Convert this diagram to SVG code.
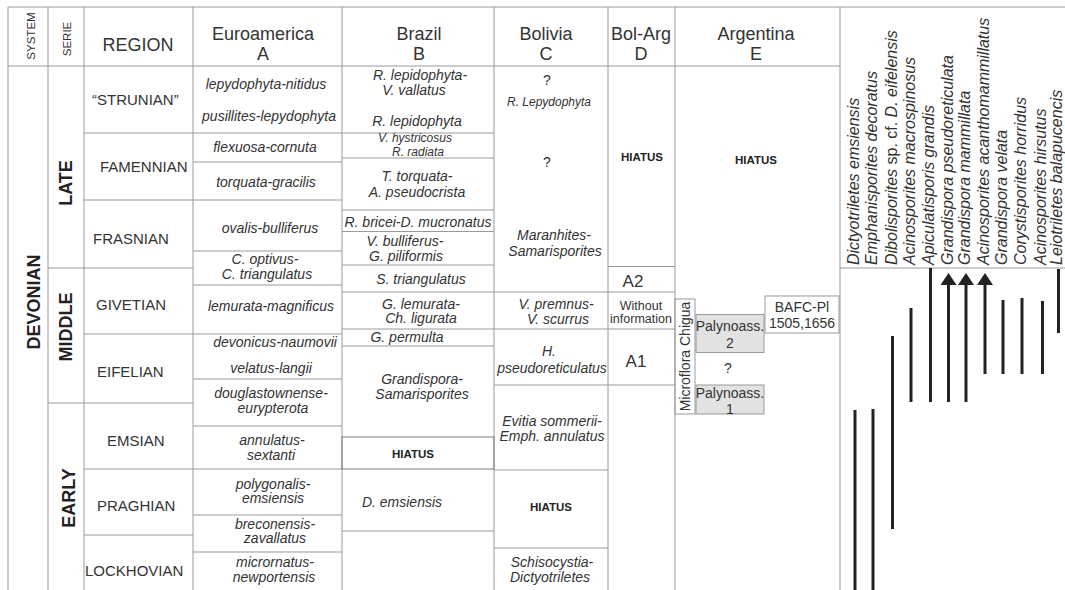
<svg xmlns="http://www.w3.org/2000/svg" width="1065" height="590" viewBox="0 0 1065 590">
<style>
text{font-family:"Liberation Sans",Arial,sans-serif;fill:#333}
.g{stroke:#9a9a9a;stroke-width:1;fill:none}
.h{font-size:18px;text-anchor:middle}
.hs{font-size:11.5px;text-anchor:middle}
.st{font-size:15px}
.it{font-size:14px;font-style:italic;text-anchor:middle}
.its{font-size:12px;font-style:italic;text-anchor:middle}
.hi{font-size:11.5px;font-weight:bold;text-anchor:middle;fill:#222}
.bd{font-size:18px;font-weight:bold;text-anchor:middle;fill:#222}
.up{font-size:14px;text-anchor:middle}
.sp{font-size:16px;font-style:italic;fill:#222}
.bar{stroke:#222;stroke-width:3}
.box{fill:#e2e2e2;stroke:#9a9a9a;stroke-width:1}
</style>
<defs>
<marker id="ah" viewBox="0 0 12 16" refX="0" refY="8" markerWidth="12" markerHeight="16" markerUnits="userSpaceOnUse" orient="auto"><path d="M0,0 L12,8 L0,16 z" fill="#222"/></marker>
<clipPath id="cp1"><rect x="696" y="385" width="68" height="29"/></clipPath>
</defs>
<rect width="1065" height="590" fill="#fff"/>

<g id="grid" class="g">
<path d="M8,7H1065 M8,66H840 M840,268H1065"/>
<path d="M8,7V590 M48,7V590 M84,7V590 M193,7V590 M342,7V590 M494,7V590 M608,7V590 M675,7V590 M840,7V590"/>
<path d="M48,268H193 M48,403H193 M84,133H494 M84,200H342 M84,334H342 M84,469H342 M84,535H193"/>
<path d="M193,162H342 M193,251H342 M193,285H342 M193,379H342 M193,426H342 M193,515H342 M193,552H342"/>
<path d="M342,158H494 M342,210H494 M342,231.5H494 M342,265H494 M342,292H675 M342,329H675 M342,346H494 M342,531H494"/>
<path d="M494,385H675 M494,470H608 M494,548H608 M608,266.5H675"/>
</g>

<g id="hdr-system"><text class="hs" transform="translate(35,36) rotate(-90)">SYSTEM</text></g>
<g id="hdr-serie"><text class="hs" transform="translate(71,39) rotate(-90)">SERIE</text></g>
<g id="hdr-region"><text class="h" x="138" y="50.5">REGION</text></g>
<g id="hdr-a"><text class="h" x="263" y="39.5">Euroamerica</text><text class="h" x="263" y="60">A</text></g>
<g id="hdr-b"><text class="h" x="419" y="39.5">Brazil</text><text class="h" x="419" y="60">B</text></g>
<g id="hdr-c"><text class="h" x="546" y="39.5">Bolivia</text><text class="h" x="546" y="60">C</text></g>
<g id="hdr-d"><text class="h" x="641" y="39.5">Bol-Arg</text><text class="h" x="641" y="60">D</text></g>
<g id="hdr-e"><text class="h" x="756" y="39.5">Argentina</text><text class="h" x="756" y="60">E</text></g>

<g id="sys-devonian"><text class="bd" transform="translate(40,302) rotate(-90)">DEVONIAN</text></g>
<g id="serie-late"><text class="bd" transform="translate(72,183) rotate(-90)">LATE</text></g>
<g id="serie-middle"><text class="bd" transform="translate(72,327) rotate(-90)">MIDDLE</text></g>
<g id="serie-early"><text class="bd" transform="translate(75,498) rotate(-90)">EARLY</text></g>

<g id="stages" class="st">
<text x="92" y="105">“STRUNIAN”</text>
<text x="100" y="172">FAMENNIAN</text>
<text x="93" y="243.5">FRASNIAN</text>
<text x="96" y="309.5">GIVETIAN</text>
<text x="97" y="376.5">EIFELIAN</text>
<text x="107" y="445.5">EMSIAN</text>
<text x="97" y="510.5">PRAGHIAN</text>
<text x="85" y="575.5">LOCKHOVIAN</text>
</g>

<g id="col-a">
<text class="it" x="266" y="89">lepydophyta-nitidus</text>
<text class="it" x="269" y="121">pusillites-lepydophyta</text>
<text class="it" x="265" y="152">flexuosa-cornuta</text>
<text class="it" x="266" y="187">torquata-gracilis</text>
<text class="it" x="270" y="233">ovalis-bulliferus</text>
<text class="it" x="265" y="264">C. optivus-</text>
<text class="it" x="267" y="279">C. triangulatus</text>
<text class="it" x="271" y="311">lemurata-magnificus</text>
<text class="it" x="275" y="347">devonicus-naumovii</text>
<text class="it" x="271" y="373">velatus-langii</text>
<text class="it" x="271" y="398">douglastownense-</text>
<text class="it" x="273" y="413">eurypterota</text>
<text class="it" x="272" y="445">annulatus-</text>
<text class="it" x="271" y="460">sextanti</text>
<text class="it" x="273" y="489">polygonalis-</text>
<text class="it" x="273" y="503">emsiensis</text>
<text class="it" x="275" y="529">breconensis-</text>
<text class="it" x="275" y="543">zavallatus</text>
<text class="it" x="275" y="567">micrornatus-</text>
<text class="it" x="274" y="582">newportensis</text>
</g>

<g id="col-b">
<text class="it" x="420" y="80">R. lepidophyta-</text>
<text class="it" x="414" y="95">V. vallatus</text>
<text class="it" x="417" y="126">R. lepidophyta</text>
<text class="its" x="415" y="142">V. hystricosus</text>
<text class="its" x="418" y="156">R. radiata</text>
<text class="it" x="417" y="181">T. torquata-</text>
<text class="it" x="417" y="196.5">A. pseudocrista</text>
<text class="it" x="418" y="227">R. bricei-D. mucronatus</text>
<text class="it" x="405" y="246">V. bulliferus-</text>
<text class="it" x="406" y="261">G. piliformis</text>
<text class="it" x="421" y="284">S. triangulatus</text>
<text class="it" x="421" y="309">G. lemurata-</text>
<text class="it" x="421" y="323">Ch. ligurata</text>
<text class="it" x="407" y="342">G. permulta</text>
<text class="it" x="422" y="384">Grandispora-</text>
<text class="it" x="422" y="399">Samarisporites</text>
<text class="it" x="402" y="506.5">D. emsiensis</text>
</g>
<g id="hiatus-b">
<rect x="342" y="437" width="152" height="32" fill="none" stroke="#7a7a7a" stroke-width="1"/>
<text class="hi" x="413" y="457.5">HIATUS</text>
</g>

<g id="col-c">
<text class="up" x="547" y="85">?</text>
<text class="its" x="549" y="106">R. Lepydophyta</text>
<text class="up" x="547" y="167">?</text>
<text class="it" x="554" y="240">Maranhites-</text>
<text class="it" x="555" y="256">Samarisporites</text>
<text class="it" x="556" y="309">V. premnus-</text>
<text class="it" x="558" y="324">V. scurrus</text>
<text class="it" x="549" y="356">H.</text>
<text class="it" x="552" y="373">pseudoreticulatus</text>
<text class="it" x="552" y="426">Evitia sommerii-</text>
<text class="it" x="552" y="441">Emph. annulatus</text>
<text class="hi" x="551" y="511">HIATUS</text>
<text class="it" x="552" y="567">Schisocystia-</text>
<text class="it" x="550" y="582">Dictyotriletes</text>
</g>

<g id="col-d">
<text class="hi" x="642" y="161">HIATUS</text>
<text class="h" x="633" y="287" style="font-size:17px">A2</text>
<text x="641" y="309.5" style="font-size:12.5px;text-anchor:middle">Without</text>
<text x="641" y="323" style="font-size:12.5px;text-anchor:middle">information</text>
<text class="h" x="636" y="367" style="font-size:17px">A1</text>
</g>

<g id="col-e">
<text class="hi" x="756" y="163.5">HIATUS</text>
</g>
<g id="microflora">
<rect x="675" y="299" width="20" height="115" fill="#fff" class="g"/>
<text class="up" transform="translate(690,356.5) rotate(-90)">Microflora Chigua</text>
</g>
<g id="palyno2">
<rect class="box" x="696" y="314.5" width="68" height="38"/>
<text x="730" y="331" style="font-size:14px;text-anchor:middle">Palynoass.</text>
<text x="730" y="348" style="font-size:14px;text-anchor:middle">2</text>
</g>
<g id="qmark"><text class="up" x="728" y="373">?</text></g>
<g id="palyno1">
<rect class="box" x="696" y="385" width="68" height="29"/>
<g clip-path="url(#cp1)">
<text x="730" y="398" style="font-size:14px;text-anchor:middle">Palynoass.</text>
<text x="730" y="414" style="font-size:14px;text-anchor:middle">1</text>
</g>
</g>
<g id="bafc">
<rect x="765" y="296" width="74" height="37" fill="#fff" class="g"/>
<text class="up" x="802" y="312">BAFC-Pl</text>
<text class="up" x="802" y="328">1505,1656</text>
</g>

<g id="species" class="sp">
<text transform="translate(859,265) rotate(-90)">Dictyotriletes emsiensis</text>
<text transform="translate(877,265) rotate(-90)">Emphanisporites decoratus</text>
<text transform="translate(896.5,265) rotate(-90)">Dibolisporites <tspan font-style="normal">sp. cf.</tspan> D. eifelensis</text>
<text transform="translate(915,265) rotate(-90)">Acinosporites macrospinosus</text>
<text transform="translate(934,265) rotate(-90)">Apiculatisporis grandis</text>
<text transform="translate(952.5,265) rotate(-90)">Grandispora pseudoreticulata</text>
<text transform="translate(970,265) rotate(-90)">Grandispora mammillata</text>
<text transform="translate(989,265) rotate(-90)">Acinosporites acanthomammillatus</text>
<text transform="translate(1007,265) rotate(-90)">Grandispora velata</text>
<text transform="translate(1026,265) rotate(-90)">Corystisporites horridus</text>
<text transform="translate(1046,265) rotate(-90)">Acinosporites hirsutus</text>
<text transform="translate(1062,265) rotate(-90)">Leiotriletes balapucencis</text>
</g>

<g id="ranges" class="bar">
<line x1="855" y1="410" x2="855" y2="590"/>
<line x1="873" y1="409" x2="873" y2="590"/>
<line x1="892.5" y1="336" x2="892.5" y2="529"/>
<line x1="911" y1="308" x2="911" y2="402"/>
<line x1="930.5" y1="268" x2="930.5" y2="402"/>
<line x1="948.5" y1="402" x2="948.5" y2="285" marker-end="url(#ah)"/>
<line x1="966" y1="402" x2="966" y2="285" marker-end="url(#ah)"/>
<line x1="985" y1="374" x2="985" y2="285" marker-end="url(#ah)"/>
<line x1="1003" y1="300" x2="1003" y2="374"/>
<line x1="1022" y1="298" x2="1022" y2="374"/>
<line x1="1042.5" y1="301" x2="1042.5" y2="374"/>
<line x1="1058.5" y1="269" x2="1058.5" y2="333"/>
</g>
</svg>
